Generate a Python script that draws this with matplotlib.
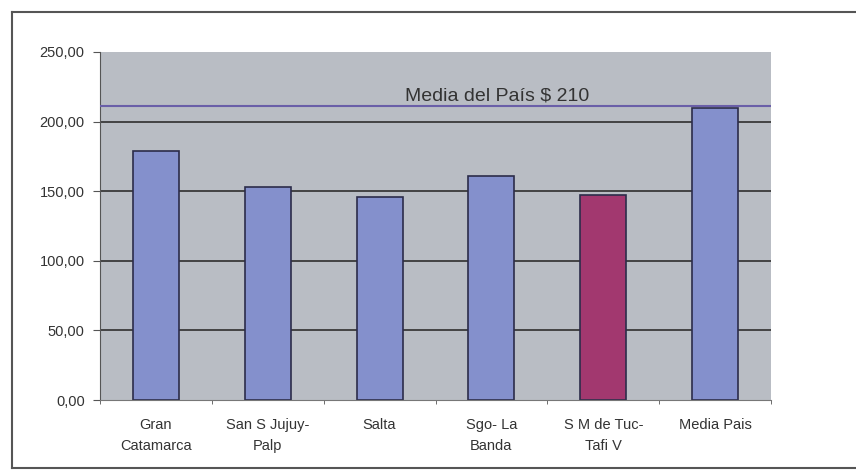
import matplotlib.pyplot as plt
import numpy as np

plt.rcParams['font.family'] = ['Liberation Sans', 'DejaVu Sans']

categories = ["Gran\nCatamarca", "San S Jujuy-\nPalp", "Salta", "Sgo- La\nBanda", "S M de Tuc-\nTafi V", "Media Pais"]
values = [179, 153, 146, 161, 147, 210]
bar_colors = ["#8490cc", "#8490cc", "#8490cc", "#8490cc", "#a2386f", "#8490cc"]
media_pais = 211
media_label = "Media del País $ 210"
yticks = [0, 50, 100, 150, 200, 250]

fig = plt.figure(figsize=(8.56, 4.70), dpi=100)
# outer chart frame, right side runs off the picture
frame = fig.add_axes([0.014, 0.004, 1.05, 0.97])
frame.set_xticks([])
frame.set_yticks([])
for s in frame.spines.values():
    s.set_color("#555555")
    s.set_linewidth(1.5)
frame.patch.set_facecolor("white")

ax = fig.add_axes([100 / 856, 70 / 470, 671 / 856, 348 / 470])
ax.set_facecolor("#b9bdc4")
x = np.arange(len(categories))
for yv in yticks[1:-1]:
    ax.axhline(yv, color="#3a3a3a", lw=1.3, zorder=1)
ax.bar(x, values, width=0.41, color=bar_colors, edgecolor="#2c2c4a", linewidth=1.2, zorder=2)
ax.axhline(media_pais, color="#6a5fa8", lw=1.5, zorder=3)
ax.text(3.05, media_pais + 1, media_label, ha="center", va="bottom", fontsize=14, color="#333333")

ax.set_xlim(-0.5, len(categories) - 0.5)
ax.set_ylim(0, 250)
ax.set_yticks(yticks)
ax.set_yticklabels([f"{v:.2f}".replace(".", ",") for v in yticks], fontsize=10.5, color="#333333")
ax.set_xticks(x)
ax.set_xticklabels(categories, fontsize=10.5, color="#333333", linespacing=1.6)
ax.set_xticks(np.arange(-0.5, len(categories)), minor=True)
ax.tick_params(axis="x", which="major", length=0, pad=13)
ax.tick_params(axis="x", which="minor", length=3, color="#555555")
ax.tick_params(axis="y", length=5, color="#555555", pad=6)
for s in ["top", "right"]:
    ax.spines[s].set_visible(False)
ax.spines["left"].set_color("#555555")
ax.spines["bottom"].set_color("#777777")

fig.savefig("out.png", dpi=100)
